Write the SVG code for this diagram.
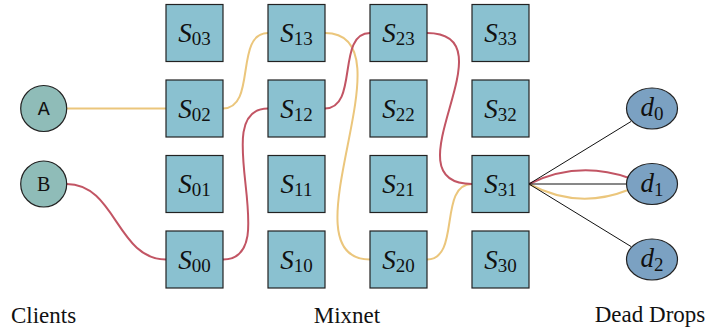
<svg xmlns="http://www.w3.org/2000/svg" width="710" height="334" viewBox="0 0 710 334">
  <style>
    .srv { fill: #8ac1d0; stroke: #222; stroke-width: 1.2; }
    .cli { fill: #8fbcb8; stroke: #222; stroke-width: 1.2; }
    .dd { fill: #7ba1c2; stroke: #222; stroke-width: 1.2; }
    .y { fill: none; stroke: #ebc67c; stroke-width: 2; }
    .r { fill: none; stroke: #c25564; stroke-width: 2; }
    .k { fill: none; stroke: #111; stroke-width: 1; }
  </style>

  <!-- connectors -->
  <g id="connectors">
    <!-- client A route -->
    <path class="y" d="M66.7,108.5 L166,108.5"/>
    <path class="y" d="M223,108.5 C257,108.5 234,33 268,33"/>
    <path class="y" d="M325,33 C415,33 280,259.5 370,259.5"/>
    <path class="y" d="M427,259.5 C461,259.5 438,184 472,184"/>
    <path class="y" d="M529,184 Q578,210 628,190"/>
    <!-- client B route -->
    <path class="r" d="M66.7,184 C116,184 117,259.5 166,259.5"/>
    <path class="r" d="M223,259.5 C285,259.5 206,108.5 268,108.5"/>
    <path class="r" d="M325,108.5 C359,108.5 336,33 370,33"/>
    <path class="r" d="M427,33 C515,33 384,184 472,184"/>
    <path class="r" d="M529,184 Q578,160 629,178"/>
    <!-- last hop to dead drops -->
    <path class="k" d="M529,184 L631,121.5"/>
    <path class="k" d="M529,184 L626.5,184"/>
    <path class="k" d="M529,184 L631,246.5"/>
  </g>

  <!-- clients -->
  <g id="client-A">
    <circle class="cli" cx="43.7" cy="108.5" r="23"/>
    <text x="43.7" y="115" font-family="Liberation Mono, monospace" font-size="20" fill="#111" text-anchor="middle">A</text>
  </g>
  <g id="client-B">
    <circle class="cli" cx="43.7" cy="184" r="23"/>
    <text x="43.7" y="191" font-family="Liberation Serif, serif" font-size="20" fill="#111" text-anchor="middle">B</text>
  </g>

  <!-- mixnet servers: column i, row j -->
  <g font-family="Liberation Serif, serif" font-size="27" fill="#111" text-anchor="middle">
  <g id="S03"><rect class="srv" x="166" y="4.5" width="57" height="57"/><text x="194.5" y="42"><tspan font-style="italic">S</tspan><tspan font-size="19" dy="3">03</tspan></text></g>
  <g id="S02"><rect class="srv" x="166" y="80" width="57" height="57"/><text x="194.5" y="117.5"><tspan font-style="italic">S</tspan><tspan font-size="19" dy="3">02</tspan></text></g>
  <g id="S01"><rect class="srv" x="166" y="155.5" width="57" height="57"/><text x="194.5" y="193"><tspan font-style="italic">S</tspan><tspan font-size="19" dy="3">01</tspan></text></g>
  <g id="S00"><rect class="srv" x="166" y="231" width="57" height="57"/><text x="194.5" y="268.5"><tspan font-style="italic">S</tspan><tspan font-size="19" dy="3">00</tspan></text></g>

  <g id="S13"><rect class="srv" x="268" y="4.5" width="57" height="57"/><text x="296.5" y="42"><tspan font-style="italic">S</tspan><tspan font-size="19" dy="3">13</tspan></text></g>
  <g id="S12"><rect class="srv" x="268" y="80" width="57" height="57"/><text x="296.5" y="117.5"><tspan font-style="italic">S</tspan><tspan font-size="19" dy="3">12</tspan></text></g>
  <g id="S11"><rect class="srv" x="268" y="155.5" width="57" height="57"/><text x="296.5" y="193"><tspan font-style="italic">S</tspan><tspan font-size="19" dy="3">11</tspan></text></g>
  <g id="S10"><rect class="srv" x="268" y="231" width="57" height="57"/><text x="296.5" y="268.5"><tspan font-style="italic">S</tspan><tspan font-size="19" dy="3">10</tspan></text></g>

  <g id="S23"><rect class="srv" x="370" y="4.5" width="57" height="57"/><text x="398.5" y="42"><tspan font-style="italic">S</tspan><tspan font-size="19" dy="3">23</tspan></text></g>
  <g id="S22"><rect class="srv" x="370" y="80" width="57" height="57"/><text x="398.5" y="117.5"><tspan font-style="italic">S</tspan><tspan font-size="19" dy="3">22</tspan></text></g>
  <g id="S21"><rect class="srv" x="370" y="155.5" width="57" height="57"/><text x="398.5" y="193"><tspan font-style="italic">S</tspan><tspan font-size="19" dy="3">21</tspan></text></g>
  <g id="S20"><rect class="srv" x="370" y="231" width="57" height="57"/><text x="398.5" y="268.5"><tspan font-style="italic">S</tspan><tspan font-size="19" dy="3">20</tspan></text></g>

  <g id="S33"><rect class="srv" x="472" y="4.5" width="57" height="57"/><text x="500.5" y="42"><tspan font-style="italic">S</tspan><tspan font-size="19" dy="3">33</tspan></text></g>
  <g id="S32"><rect class="srv" x="472" y="80" width="57" height="57"/><text x="500.5" y="117.5"><tspan font-style="italic">S</tspan><tspan font-size="19" dy="3">32</tspan></text></g>
  <g id="S31"><rect class="srv" x="472" y="155.5" width="57" height="57"/><text x="500.5" y="193"><tspan font-style="italic">S</tspan><tspan font-size="19" dy="3">31</tspan></text></g>
  <g id="S30"><rect class="srv" x="472" y="231" width="57" height="57"/><text x="500.5" y="268.5"><tspan font-style="italic">S</tspan><tspan font-size="19" dy="3">30</tspan></text></g>

  <!-- dead drops -->
  <g id="d0"><ellipse class="dd" cx="652" cy="108.5" rx="25.5" ry="20.5"/><text x="652" y="116"><tspan font-style="italic">d</tspan><tspan font-size="19" dy="4">0</tspan></text></g>
  <g id="d1"><ellipse class="dd" cx="652" cy="184" rx="25.5" ry="20.5"/><text x="652" y="191.5"><tspan font-style="italic">d</tspan><tspan font-size="19" dy="4">1</tspan></text></g>
  <g id="d2"><ellipse class="dd" cx="652" cy="259.5" rx="25.5" ry="20.5"/><text x="652" y="267"><tspan font-style="italic">d</tspan><tspan font-size="19" dy="4">2</tspan></text></g>

  <!-- column captions -->
  <text x="43.5" y="323" font-size="23">Clients</text>
  <text x="347" y="323" font-size="23">Mixnet</text>
  <text x="650" y="322" font-size="23">Dead Drops</text>
  </g>
</svg>
